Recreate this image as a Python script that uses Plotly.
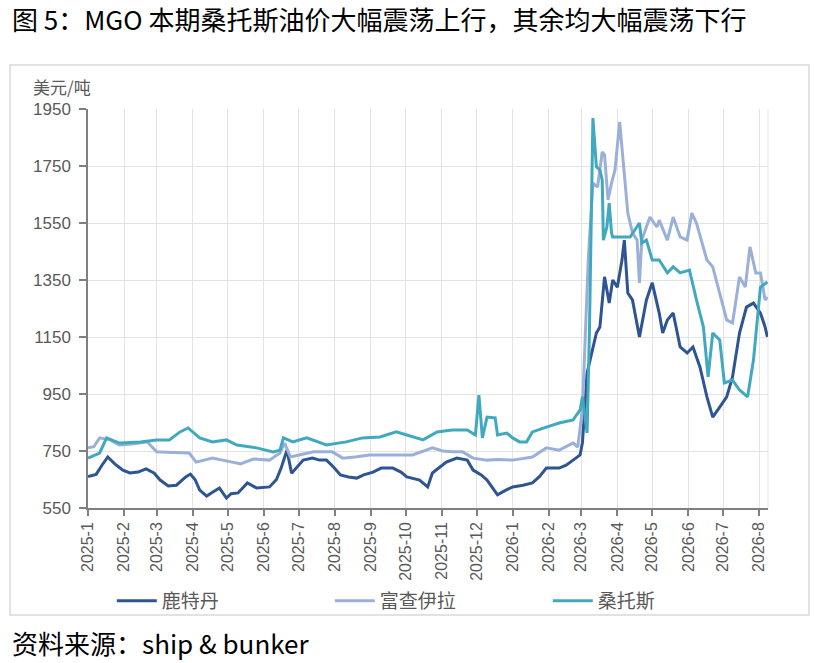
import plotly.graph_objects as go

# 鹿特丹 / 富查伊拉 / 桑托斯 MGO 价格（美元/吨），读图估计
rotterdam_dates = [
    "2025-01-01", "2025-01-08", "2025-01-13", "2025-01-18", "2025-01-24", "2025-01-31",
    "2025-02-06", "2025-02-13", "2025-02-20", "2025-02-27", "2025-03-04", "2025-03-11",
    "2025-03-18", "2025-03-26", "2025-03-30", "2025-04-03", "2025-04-07", "2025-04-13",
    "2025-04-18", "2025-04-24", "2025-04-30", "2025-05-04", "2025-05-10", "2025-05-18",
    "2025-05-26", "2025-06-06", "2025-06-12", "2025-06-16", "2025-06-21", "2025-06-25",
    "2025-07-05", "2025-07-13", "2025-07-19", "2025-07-25", "2025-07-31", "2025-08-06",
    "2025-08-13", "2025-08-20", "2025-08-26", "2025-09-03", "2025-09-10", "2025-09-20",
    "2025-09-27", "2025-10-02", "2025-10-13", "2025-10-20", "2025-10-24", "2025-11-05",
    "2025-11-14", "2025-11-23", "2025-11-28", "2025-12-05", "2025-12-10", "2025-12-19",
    "2025-12-25", "2026-01-01", "2026-01-10", "2026-01-18", "2026-01-24", "2026-01-30",
    "2026-02-10", "2026-02-16", "2026-02-22", "2026-02-28", "2026-03-02", "2026-03-06",
    "2026-03-10", "2026-03-14", "2026-03-17", "2026-03-21", "2026-03-25", "2026-03-28",
    "2026-04-01", "2026-04-05", "2026-04-07", "2026-04-10", "2026-04-14", "2026-04-20",
    "2026-04-26", "2026-05-01", "2026-05-07", "2026-05-10", "2026-05-14", "2026-05-19",
    "2026-05-25", "2026-05-31", "2026-06-05", "2026-06-11", "2026-06-17", "2026-06-22",
    "2026-06-28", "2026-07-04", "2026-07-09", "2026-07-15", "2026-07-21", "2026-07-27",
    "2026-08-02", "2026-08-06", "2026-08-08",
]
rotterdam = [
    660, 668, 700, 729, 705, 683,
    673, 676, 687, 672, 648, 627,
    630, 659, 669, 650, 613, 592,
    605, 620, 585, 600, 603, 638,
    620, 624, 650, 690, 753, 672,
    718, 725, 718, 718, 694, 666,
    659, 655, 666, 676, 690, 690,
    676, 659, 648, 624, 673, 711,
    725, 718, 683, 666, 648, 596,
    610, 624, 630, 638, 660, 690,
    690, 700, 718, 736, 780, 1024,
    1094, 1164, 1185, 1361, 1269, 1350,
    1325, 1420, 1490, 1304, 1280, 1150,
    1280, 1340, 1234, 1164, 1210, 1234,
    1115, 1094, 1115, 1045, 940, 869,
    904, 940, 1010, 1164, 1255, 1269,
    1234, 1185, 1150,
]

fujairah_dates = [
    "2025-01-01", "2025-01-06", "2025-01-11", "2025-01-20", "2025-01-28", "2025-02-10",
    "2025-02-21", "2025-03-01", "2025-03-15", "2025-03-29", "2025-04-04", "2025-04-18",
    "2025-05-05", "2025-05-12", "2025-05-23", "2025-06-06", "2025-06-15", "2025-06-19",
    "2025-06-24", "2025-07-05", "2025-07-14", "2025-07-30", "2025-08-08", "2025-08-20",
    "2025-08-31", "2025-09-17", "2025-10-07", "2025-10-24", "2025-11-02", "2025-11-10",
    "2025-11-19", "2025-11-28", "2025-12-10", "2025-12-20", "2026-01-01", "2026-01-18",
    "2026-01-30", "2026-02-10", "2026-02-22", "2026-02-26", "2026-03-02", "2026-03-07",
    "2026-03-11", "2026-03-15", "2026-03-19", "2026-03-21", "2026-03-24", "2026-03-27",
    "2026-03-30", "2026-04-03", "2026-04-06", "2026-04-10", "2026-04-14", "2026-04-18",
    "2026-04-20", "2026-04-22", "2026-04-29", "2026-05-05", "2026-05-07", "2026-05-14",
    "2026-05-19", "2026-05-25", "2026-05-31", "2026-06-04", "2026-06-08", "2026-06-17",
    "2026-06-22", "2026-06-28", "2026-07-04", "2026-07-09", "2026-07-15", "2026-07-20",
    "2026-07-24", "2026-07-29", "2026-08-02", "2026-08-06", "2026-08-08",
]
fujairah = [
    761, 765, 796, 789, 771, 775,
    782, 747, 745, 743, 711, 725,
    711, 705, 722, 718, 743, 778,
    729, 740, 747, 747, 725, 730,
    736, 736, 736, 761, 750, 747,
    747, 725, 718, 720, 718, 729,
    761, 753, 778, 764, 900, 1420,
    1690, 1676, 1799, 1789, 1631, 1690,
    1736, 1905, 1771, 1585, 1515, 1490,
    1340, 1490, 1571, 1536, 1560, 1490,
    1571, 1501, 1490, 1585, 1550, 1420,
    1396, 1304, 1210, 1199, 1361, 1325,
    1466, 1375, 1375, 1280, 1290,
]

santos_dates = [
    "2025-01-01", "2025-01-11", "2025-01-17", "2025-01-28", "2025-02-15", "2025-03-01",
    "2025-03-12", "2025-03-21", "2025-03-28", "2025-04-07", "2025-04-18", "2025-04-30",
    "2025-05-09", "2025-05-26", "2025-06-09", "2025-06-15", "2025-06-18", "2025-06-26",
    "2025-07-08", "2025-07-25", "2025-08-11", "2025-08-25", "2025-09-09", "2025-09-23",
    "2025-10-02", "2025-10-16", "2025-10-28", "2025-11-10", "2025-11-23", "2025-11-30",
    "2025-12-03", "2025-12-06", "2025-12-10", "2025-12-17", "2025-12-19", "2025-12-27",
    "2026-01-01", "2026-01-07", "2026-01-13", "2026-01-18", "2026-01-30", "2026-02-10",
    "2026-02-22", "2026-02-28", "2026-03-02", "2026-03-06", "2026-03-08", "2026-03-11",
    "2026-03-14", "2026-03-17", "2026-03-19", "2026-03-20", "2026-03-23", "2026-03-25",
    "2026-03-27", "2026-03-28", "2026-04-12", "2026-04-20", "2026-04-22", "2026-04-26",
    "2026-05-01", "2026-05-07", "2026-05-14", "2026-05-19", "2026-05-25", "2026-06-02",
    "2026-06-08", "2026-06-14", "2026-06-18", "2026-06-22", "2026-06-28", "2026-07-02",
    "2026-07-09", "2026-07-15", "2026-07-22", "2026-07-27", "2026-08-02", "2026-08-08",
]
santos = [
    725, 743, 796, 778, 782, 789,
    789, 817, 831, 796, 782, 789,
    771, 761, 747, 753, 796, 782,
    796, 771, 782, 796, 799, 817,
    806, 789, 817, 824, 824, 806,
    946, 796, 869, 866, 806, 813,
    796, 782, 782, 817, 834, 848,
    859, 894, 940, 813, 1164, 1918,
    1747, 1736, 1700, 1490, 1536, 1620,
    1515, 1501, 1501, 1550, 1480, 1490,
    1420, 1420, 1375, 1396, 1375, 1385,
    1280, 1185, 1010, 1164, 1140, 989,
    999, 964, 940, 1069, 1325, 1343,
]

month_ticks = [
    "2025-01-01", "2025-02-01", "2025-03-01", "2025-04-01", "2025-05-01", "2025-06-01",
    "2025-07-01", "2025-08-01", "2025-09-01", "2025-10-01", "2025-11-01", "2025-12-01",
    "2026-01-01", "2026-02-01", "2026-03-01", "2026-04-01", "2026-05-01", "2026-06-01",
    "2026-07-01", "2026-08-01",
]
month_labels = [
    "2025-1", "2025-2", "2025-3", "2025-4", "2025-5", "2025-6", "2025-7", "2025-8",
    "2025-9", "2025-10", "2025-11", "2025-12", "2026-1", "2026-2", "2026-3", "2026-4",
    "2026-5", "2026-6", "2026-7", "2026-8",
]

FONT = "Liberation Sans, Noto Sans CJK SC, sans-serif"
CJK = "Noto Sans CJK SC, Liberation Sans, sans-serif"

fig = go.Figure()
fig.add_trace(go.Scatter(x=rotterdam_dates, y=rotterdam, mode="lines", name="鹿特丹",
                         line=dict(color="#2F5492", width=3)))
fig.add_trace(go.Scatter(x=fujairah_dates, y=fujairah, mode="lines", name="富查伊拉",
                         line=dict(color="#9AB0D8", width=3)))
fig.add_trace(go.Scatter(x=santos_dates, y=santos, mode="lines", name="桑托斯",
                         line=dict(color="#41A9BF", width=3)))

fig.update_layout(
    width=820, height=663, autosize=False,
    margin=dict(l=88, r=52, t=109, b=155),
    paper_bgcolor="white", plot_bgcolor="white",
    font=dict(family=FONT, color="#595959", size=16),
    title=dict(text="图 5：MGO 本期桑托斯油价大幅震荡上行，其余均大幅震荡下行",
               x=12 / 820, xanchor="left", y=1 - 21 / 663, yanchor="middle",
               font=dict(family=CJK, size=26, color="black")),
    legend=dict(orientation="h", x=0.035, y=-0.233, xanchor="left", yanchor="middle",
                entrywidth=163, entrywidthmode="pixels", itemwidth=40,
                font=dict(family=CJK, size=19, color="#595959"),
                bgcolor="rgba(0,0,0,0)"),
    showlegend=True,
)

fig.update_xaxes(
    type="date", range=["2025-01-01", "2026-08-08 12:00"],
    tickmode="array", tickvals=month_ticks, ticktext=month_labels, tickangle=-90,
    ticks="outside", ticklen=6, tickcolor="#808080", tickwidth=1.5,
    showline=True, linecolor="#808080", linewidth=1.5,
    showgrid=True, gridcolor="#E3E3E3", gridwidth=1,
    tickfont=dict(family=FONT, size=16, color="#595959"),
)
fig.update_yaxes(
    range=[550, 1950], tick0=550, dtick=200,
    ticks="outside", ticklen=7, tickcolor="#808080", tickwidth=1.5,
    ticklabelstandoff=5,
    showline=True, linecolor="#808080", linewidth=1.5,
    showgrid=True, gridcolor="#E3E3E3", gridwidth=1, zeroline=False,
    tickfont=dict(family=FONT, size=17, color="#595959"),
)

# outer frame and right edge of the plot area
fig.add_shape(type="rect", xref="paper", yref="paper",
              x0=(10 - 88) / 680, x1=(809 - 88) / 680,
              y0=(508 - 615) / 399, y1=(508 - 65) / 399,
              line=dict(color="#D9D9D9", width=1.5), layer="below")
fig.add_shape(type="line", xref="paper", yref="paper", x0=1, x1=1, y0=0, y1=1,
              line=dict(color="#E3E3E3", width=1), layer="below")

fig.add_annotation(text="美元/吨", xref="paper", yref="paper",
                   x=(31 - 88) / 680, y=(508 - 87) / 399, xanchor="left", yanchor="middle",
                   showarrow=False, font=dict(family=CJK, size=17, color="#595959"))
fig.add_annotation(text="资料来源：ship & bunker", xref="paper", yref="paper",
                   x=(10 - 88) / 680, y=(508 - 642) / 399, xanchor="left", yanchor="middle",
                   showarrow=False, font=dict(family=CJK, size=26, color="black"))

# page body has a default margin; drop it so the figure sits at the window's corner
fig.write_html("out.html", config={"displayModeBar": False},
               post_script="document.body.style.margin='0';")
